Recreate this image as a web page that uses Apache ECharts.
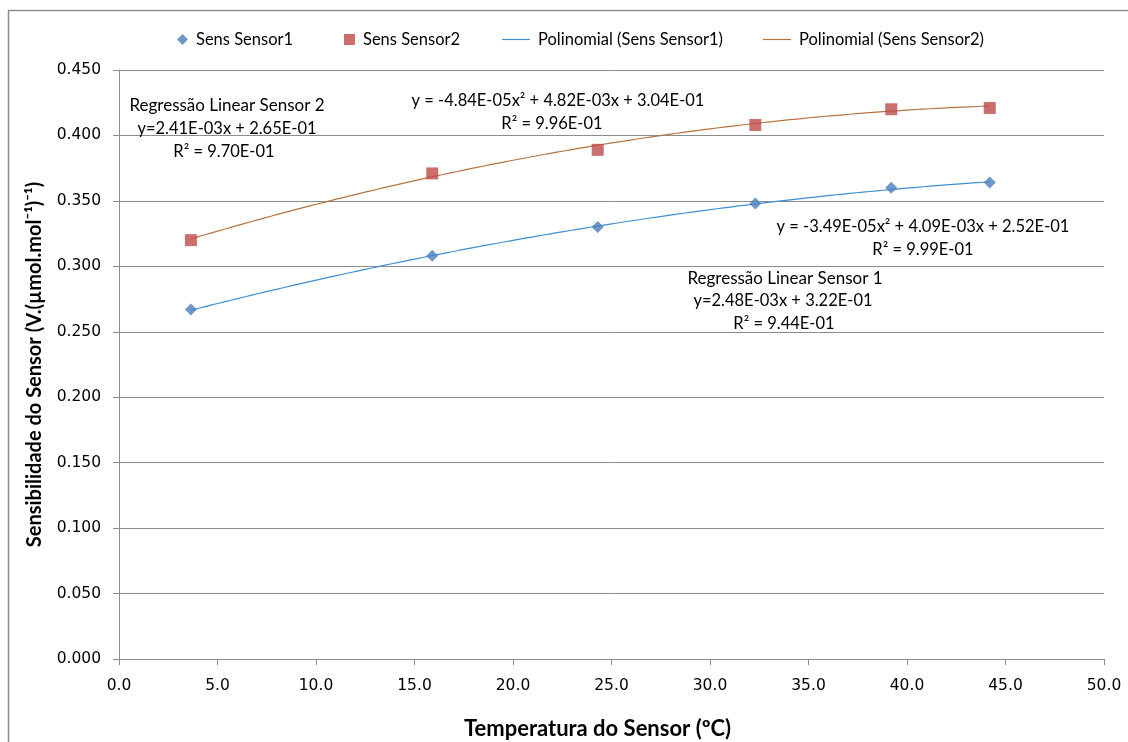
<!DOCTYPE html>
<html>
<head>
<meta charset="utf-8">
<title>Sensibilidade do Sensor x Temperatura</title>
<script src="https://cdn.jsdelivr.net/npm/echarts@6/dist/echarts.min.js"></script>
<style>
  html, body { margin: 0; padding: 0; background: #fff; }
  #chart { width: 1128px; height: 742px; }
</style>
</head>
<body>
<div id="chart"></div>
<script>
// Sensor temperature (ºC) and measured sensitivity for each sensor
const tempSensor1 = [3.65, 15.9, 24.3, 32.3, 39.2, 44.2];
const sensSensor1 = [0.267, 0.308, 0.330, 0.348, 0.360, 0.364];
const tempSensor2 = [3.65, 15.9, 24.3, 32.3, 39.2, 44.2];
const sensSensor2 = [0.320, 0.371, 0.389, 0.408, 0.420, 0.421];

// Second-order trendline coefficients [a, b, c] for y = a·x² + b·x + c
const polySensor1 = [-3.49e-5, 4.09e-3, 2.52e-1];
const polySensor2 = [-4.84e-5, 4.82e-3, 3.04e-1];

// Axis ranges
const xTicks = { min: 0, max: 50, interval: 5 };
const yTicks = { min: 0, max: 0.45, interval: 0.05 };

const COLOR1 = '#4A7EBB';
const COLOR2 = '#BE4B48';
const TREND1 = '#3F8FD2';
const TREND2 = '#B8733E';
const LABEL_FONT = 'Lato, "Open Sans", sans-serif';
const TICK_FONT = '"DejaVu Sans", sans-serif';

function pairs(xs, ys) { return xs.map((x, i) => [x, ys[i]]); }

// Sample the fitted polynomial across the measured temperature span
function trend(coef, xs) {
  const x0 = Math.min(...xs), x1 = Math.max(...xs);
  const n = 120, pts = [];
  for (let i = 0; i <= n; i++) {
    const x = x0 + (x1 - x0) * i / n;
    pts.push([x, coef[0] * x * x + coef[1] * x + coef[2]]);
  }
  return pts;
}

// Scientific notation with a two-digit exponent, e.g. -4.84E-05
function fmt(v) {
  const [m, e] = v.toExponential(2).split('e');
  const sign = e[0] === '-' ? '-' : '+';
  const digits = e.replace(/^[+-]/, '').padStart(2, '0');
  return m + 'E' + sign + digits;
}

const chart = echarts.init(document.getElementById('chart'), null, { renderer: 'canvas' });

function note(x, y, str, size) {
  return {
    type: 'text', x: x, y: y, z: 10,
    style: { text: str, fill: '#000', font: (size || 16.5) + 'px ' + LABEL_FONT, textAlign: 'center', textVerticalAlign: 'middle' }
  };
}

function legendItem(left, name, icon, w, h) {
  return {
    top: 26, left: left, itemWidth: w, itemHeight: h, itemGap: 0,
    data: [{ name: name, icon: icon }],
    textStyle: { fontFamily: LABEL_FONT, fontSize: 16.5, color: '#000', padding: [0, 0, 0, 3] },
    selectedMode: false
  };
}

const LINE_ICON = 'path://M0,0L28,0L28,1.2L0,1.2Z';

chart.setOption({
  backgroundColor: '#fff',
  animation: false,
  grid: { left: 119, right: 24, top: 70, bottom: 83, outerBoundsMode: 'none', containLabel: false },
  legend: [
    legendItem(172, 'Sens Sensor1', 'diamond', 11, 11),
    legendItem(339, 'Sens Sensor2', 'rect', 11, 11),
    legendItem(497, 'Polinomial (Sens Sensor1)', LINE_ICON, 28, 1.2),
    legendItem(758, 'Polinomial (Sens Sensor2)', LINE_ICON, 28, 1.2)
  ],
  xAxis: {
    type: 'value', min: xTicks.min, max: xTicks.max, interval: xTicks.interval,
    name: 'Temperatura do Sensor (ºC)', nameLocation: 'middle', nameGap: 59,
    nameTextStyle: { fontFamily: LABEL_FONT, fontWeight: 'bold', fontSize: 22, color: '#000', padding: [0, 28, 0, 0] },
    axisLine: { lineStyle: { color: '#8C8C8C', width: 1 } },
    axisTick: { show: true, length: 6, lineStyle: { color: '#8C8C8C' } },
    axisLabel: { formatter: v => v.toFixed(1), fontFamily: TICK_FONT, fontSize: 15.5, color: '#000', margin: 19 },
    splitLine: { show: false }
  },
  yAxis: {
    type: 'value', min: yTicks.min, max: yTicks.max, interval: yTicks.interval,
    name: 'Sensibilidade do Sensor (V.(µmol.mol⁻¹)⁻¹)', nameLocation: 'middle', nameGap: 74, nameRotate: 90,
    nameTextStyle: { fontFamily: LABEL_FONT, fontWeight: 'bold', fontSize: 20, color: '#000' },
    axisLine: { show: true, lineStyle: { color: '#8C8C8C', width: 1 } },
    axisTick: { show: true, length: 6, lineStyle: { color: '#8C8C8C' } },
    axisLabel: { formatter: v => v.toFixed(3), fontFamily: TICK_FONT, fontSize: 15.5, color: '#000', margin: 18 },
    splitLine: { show: true, lineStyle: { color: '#8C8C8C', width: 1 } }
  },
  series: [
    {
      name: 'Sens Sensor1', type: 'scatter', symbol: 'diamond', symbolSize: 12,
      itemStyle: { color: COLOR1 }, data: pairs(tempSensor1, sensSensor1), z: 5
    },
    {
      name: 'Sens Sensor2', type: 'scatter', symbol: 'rect', symbolSize: 12,
      itemStyle: { color: COLOR2 }, data: pairs(tempSensor2, sensSensor2), z: 5
    },
    {
      name: 'Polinomial (Sens Sensor1)', type: 'line', showSymbol: false, symbol: 'none',
      lineStyle: { color: TREND1, width: 1.2 }, itemStyle: { color: TREND1 },
      data: trend(polySensor1, tempSensor1), z: 3
    },
    {
      name: 'Polinomial (Sens Sensor2)', type: 'line', showSymbol: false, symbol: 'none',
      lineStyle: { color: TREND2, width: 1.2 }, itemStyle: { color: TREND2 },
      data: trend(polySensor2, tempSensor2), z: 3
    }
  ],
  graphic: [
    { type: 'rect', shape: { x: 8.5, y: 10.5, width: 1140, height: 760 },
      style: { fill: 'none', stroke: '#8C8C8C', lineWidth: 1.5 }, silent: true, z: 0 },
    note(227, 106, 'Regressão Linear Sensor 2', 17),
    note(227, 129, 'y=2.41E-03x + 2.65E-01'),
    note(224, 152, 'R² = 9.70E-01'),
    note(558, 101, 'y = ' + fmt(polySensor2[0]) + 'x² + ' + fmt(polySensor2[1]) + 'x + ' + fmt(polySensor2[2])),
    note(552, 124, 'R² = 9.96E-01'),
    note(923, 227, 'y = ' + fmt(polySensor1[0]) + 'x² + ' + fmt(polySensor1[1]) + 'x + ' + fmt(polySensor1[2])),
    note(923, 250, 'R² = 9.99E-01'),
    note(785, 279, 'Regressão Linear Sensor 1', 17),
    note(783, 301, 'y=2.48E-03x + 3.22E-01'),
    note(784, 324, 'R² = 9.44E-01')
  ]
});
</script>
</body>
</html>
